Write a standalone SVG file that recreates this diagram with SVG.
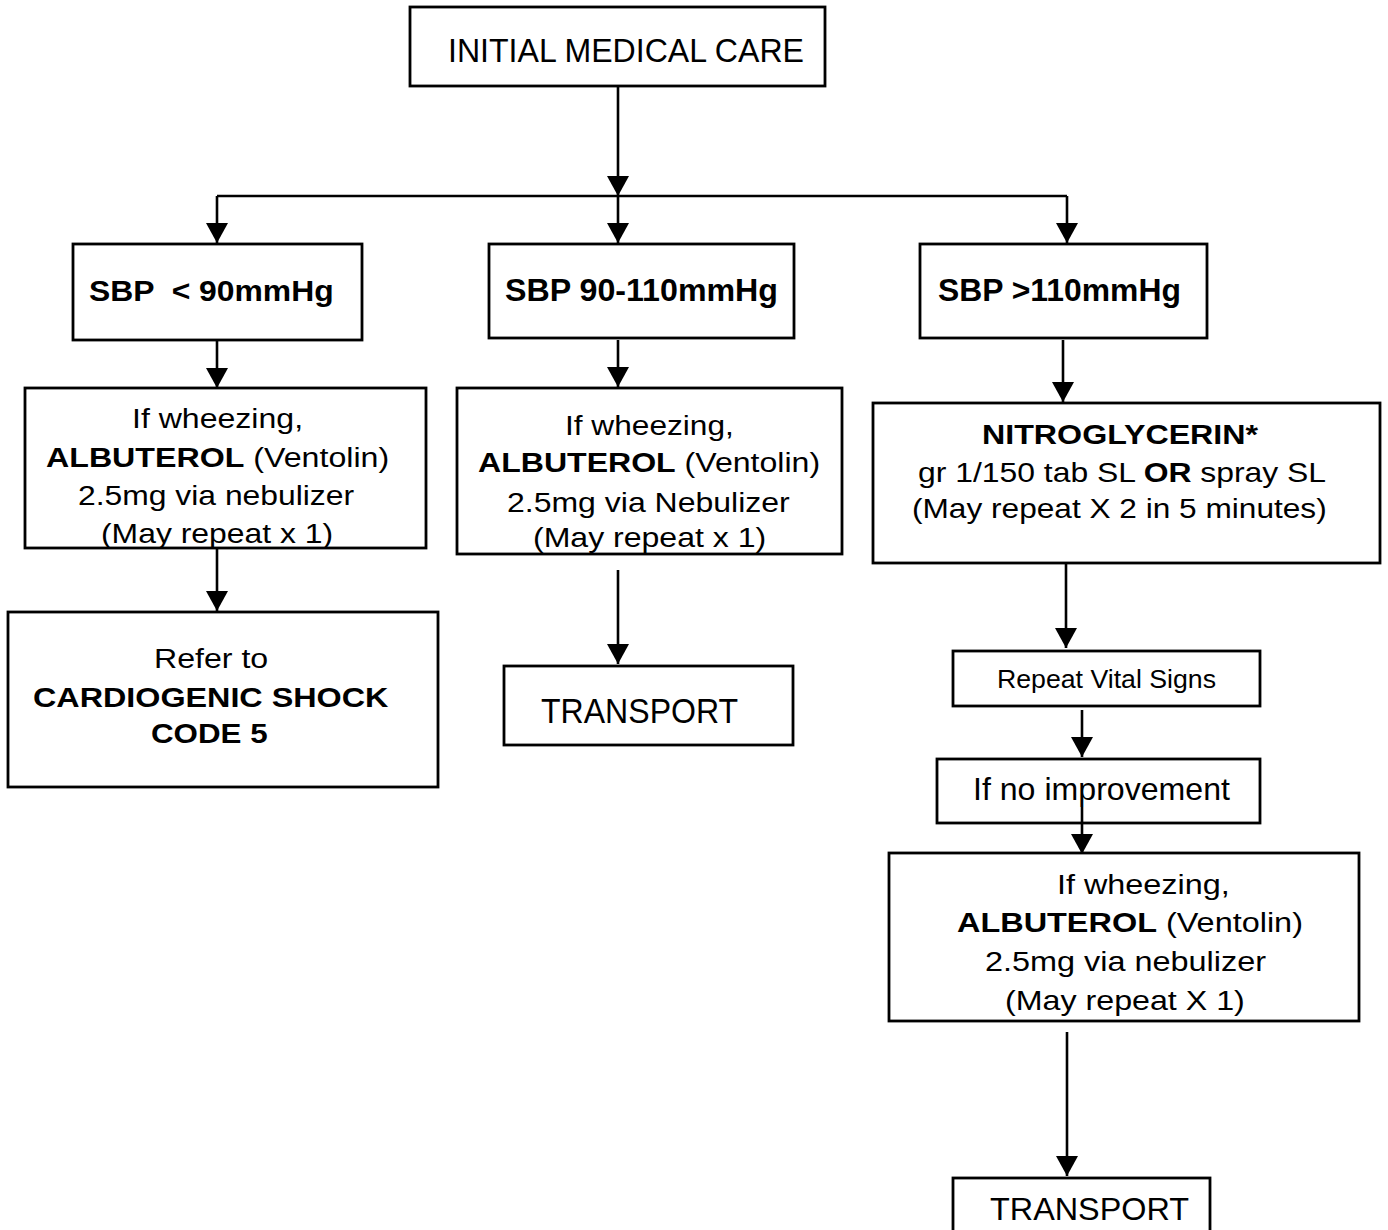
<svg xmlns="http://www.w3.org/2000/svg" width="1388" height="1230" viewBox="0 0 1388 1230">
  <defs>
    <marker id="arrow" viewBox="0 0 20 22" markerWidth="20" markerHeight="22" refX="20" refY="11" markerUnits="userSpaceOnUse" orient="auto">
      <path d="M0,0 L20,11 L0,22 Z" fill="#000"/>
    </marker>
    <style>
      .box { fill: #fff; stroke: #000; stroke-width: 2.8; }
      .t { font-family: "Liberation Sans", Arial, sans-serif; fill: #000; }
      .b { font-weight: bold; }
      .wire { fill: none; stroke: #000; stroke-width: 2.6; }
      .arr { fill: none; stroke: #000; stroke-width: 2.6; marker-end: url(#arrow); }
    </style>
  </defs>
  <rect width="1388" height="1230" fill="#fff"/>

  <!-- nodes; body text is set slightly wide (horizontal scale on each line) -->
  <g id="initial-care">
    <rect class="box" x="410" y="7" width="415" height="79"/>
    <text class="t" transform="matrix(1 0 0 1 448 62)" font-size="32.5" textLength="356" lengthAdjust="spacingAndGlyphs">INITIAL MEDICAL CARE</text>
  </g>

  <g id="sbp-low">
    <rect class="box" x="73" y="244" width="289" height="96"/>
    <text class="t b" transform="matrix(1.05 0 0 1 89 301)" font-size="29.5" textLength="233" lengthAdjust="spacingAndGlyphs" xml:space="preserve">SBP  &lt; 90mmHg</text>
  </g>

  <g id="sbp-mid">
    <rect class="box" x="489" y="244" width="305" height="94"/>
    <text class="t b" transform="matrix(1.04 0 0 1 505 301)" font-size="30.5" textLength="262.5" lengthAdjust="spacingAndGlyphs">SBP 90-110mmHg</text>
  </g>

  <g id="sbp-high">
    <rect class="box" x="920" y="244" width="287" height="94"/>
    <text class="t b" transform="matrix(1.04 0 0 1 938 301)" font-size="30.5" textLength="233.5" lengthAdjust="spacingAndGlyphs">SBP &gt;110mmHg</text>
  </g>

  <g id="albuterol-low">
    <rect class="box" x="25" y="388" width="401" height="160"/>
    <text class="t" transform="matrix(1.1 0 0 1 132 428)" font-size="28.5" textLength="155.5" lengthAdjust="spacingAndGlyphs">If wheezing,</text>
    <text class="t" transform="matrix(1.1 0 0 1 46 467)" font-size="28.5" textLength="312" lengthAdjust="spacingAndGlyphs"><tspan class="b">ALBUTEROL</tspan> (Ventolin)</text>
    <text class="t" transform="matrix(1.1 0 0 1 78 505)" font-size="28.5" textLength="251" lengthAdjust="spacingAndGlyphs">2.5mg via nebulizer</text>
    <text class="t" transform="matrix(1.1 0 0 1 101 543)" font-size="28.5" textLength="211" lengthAdjust="spacingAndGlyphs">(May repeat x 1)</text>
  </g>

  <g id="albuterol-mid">
    <rect class="box" x="457" y="388" width="385" height="166"/>
    <text class="t" transform="matrix(1.1 0 0 1 565 435)" font-size="28.5" textLength="153.5" lengthAdjust="spacingAndGlyphs">If wheezing,</text>
    <text class="t" transform="matrix(1.1 0 0 1 478 472)" font-size="28.5" textLength="311" lengthAdjust="spacingAndGlyphs"><tspan class="b">ALBUTEROL</tspan> (Ventolin)</text>
    <text class="t" transform="matrix(1.1 0 0 1 507 512)" font-size="28.5" textLength="257" lengthAdjust="spacingAndGlyphs">2.5mg via Nebulizer</text>
    <text class="t" transform="matrix(1.1 0 0 1 533 547)" font-size="28.5" textLength="212" lengthAdjust="spacingAndGlyphs">(May repeat x 1)</text>
  </g>

  <g id="nitroglycerin">
    <rect class="box" x="873" y="403" width="507" height="160"/>
    <text class="t b" transform="matrix(1.1 0 0 1 982 444)" font-size="28.5" textLength="251" lengthAdjust="spacingAndGlyphs">NITROGLYCERIN*</text>
    <text class="t" transform="matrix(1.1 0 0 1 918 482)" font-size="28.5" textLength="371" lengthAdjust="spacingAndGlyphs">gr 1/150 tab SL <tspan class="b">OR</tspan> spray SL</text>
    <text class="t" transform="matrix(1.1 0 0 1 912 518)" font-size="28.5" textLength="377" lengthAdjust="spacingAndGlyphs">(May repeat X 2 in 5 minutes)</text>
  </g>

  <g id="cardiogenic-shock">
    <rect class="box" x="8" y="612" width="430" height="175"/>
    <text class="t" transform="matrix(1.12 0 0 1 154 668)" font-size="27.5" textLength="102" lengthAdjust="spacingAndGlyphs">Refer to</text>
    <text class="t b" transform="matrix(1.1 0 0 1 33 707)" font-size="28.5" textLength="323" lengthAdjust="spacingAndGlyphs">CARDIOGENIC SHOCK</text>
    <text class="t b" transform="matrix(1.1 0 0 1 151 743)" font-size="28.5" textLength="106" lengthAdjust="spacingAndGlyphs">CODE 5</text>
  </g>

  <g id="transport-mid">
    <rect class="box" x="504" y="666" width="289" height="79"/>
    <text class="t" transform="matrix(0.9 0 0 1 541 723)" font-size="36" textLength="219" lengthAdjust="spacingAndGlyphs">TRANSPORT</text>
  </g>

  <g id="repeat-vitals">
    <rect class="box" x="953" y="651" width="307" height="55"/>
    <text class="t" transform="matrix(1 0 0 1 997 688)" font-size="26" textLength="219" lengthAdjust="spacingAndGlyphs">Repeat Vital Signs</text>
  </g>

  <g id="no-improvement">
    <rect class="box" x="937" y="759" width="323" height="64"/>
    <text class="t" transform="matrix(1.03 0 0 1 973 800)" font-size="31" textLength="249.5" lengthAdjust="spacingAndGlyphs">If no improvement</text>
  </g>

  <g id="albuterol-high">
    <rect class="box" x="889" y="853" width="470" height="168"/>
    <text class="t" transform="matrix(1.1 0 0 1 1057 894)" font-size="28.5" textLength="157" lengthAdjust="spacingAndGlyphs">If wheezing,</text>
    <text class="t" transform="matrix(1.1 0 0 1 957 932)" font-size="28.5" textLength="314.5" lengthAdjust="spacingAndGlyphs"><tspan class="b">ALBUTEROL</tspan> (Ventolin)</text>
    <text class="t" transform="matrix(1.1 0 0 1 985 971)" font-size="28.5" textLength="255.5" lengthAdjust="spacingAndGlyphs">2.5mg via nebulizer</text>
    <text class="t" transform="matrix(1.1 0 0 1 1005 1010)" font-size="28.5" textLength="218" lengthAdjust="spacingAndGlyphs">(May repeat X 1)</text>
  </g>

  <g id="transport-high">
    <rect class="box" x="953" y="1178" width="257" height="70"/>
    <text class="t" transform="matrix(1 0 0 1 990 1220)" font-size="32" textLength="199" lengthAdjust="spacingAndGlyphs">TRANSPORT</text>
  </g>

  <!-- connectors -->
  <g id="connectors">
    <line class="arr" x1="618" y1="87" x2="618" y2="196"/>
    <line class="wire" x1="217" y1="196" x2="1067" y2="196"/>
    <line class="arr" x1="217" y1="196" x2="217" y2="243"/>
    <line class="arr" x1="618" y1="196" x2="618" y2="243"/>
    <line class="arr" x1="1067" y1="196" x2="1067" y2="243"/>
    <line class="arr" x1="217" y1="341" x2="217" y2="388"/>
    <line class="arr" x1="618" y1="340" x2="618" y2="387"/>
    <line class="arr" x1="1063" y1="340" x2="1063" y2="402"/>
    <line class="arr" x1="217" y1="549" x2="217" y2="611"/>
    <line class="arr" x1="618" y1="570" x2="618" y2="664"/>
    <line class="arr" x1="1066" y1="564" x2="1066" y2="648"/>
    <line class="arr" x1="1082" y1="710" x2="1082" y2="757"/>
    <line class="arr" x1="1082" y1="807" x2="1082" y2="854"/>
    <line class="arr" x1="1067" y1="1032" x2="1067" y2="1176"/>
  </g>
</svg>
